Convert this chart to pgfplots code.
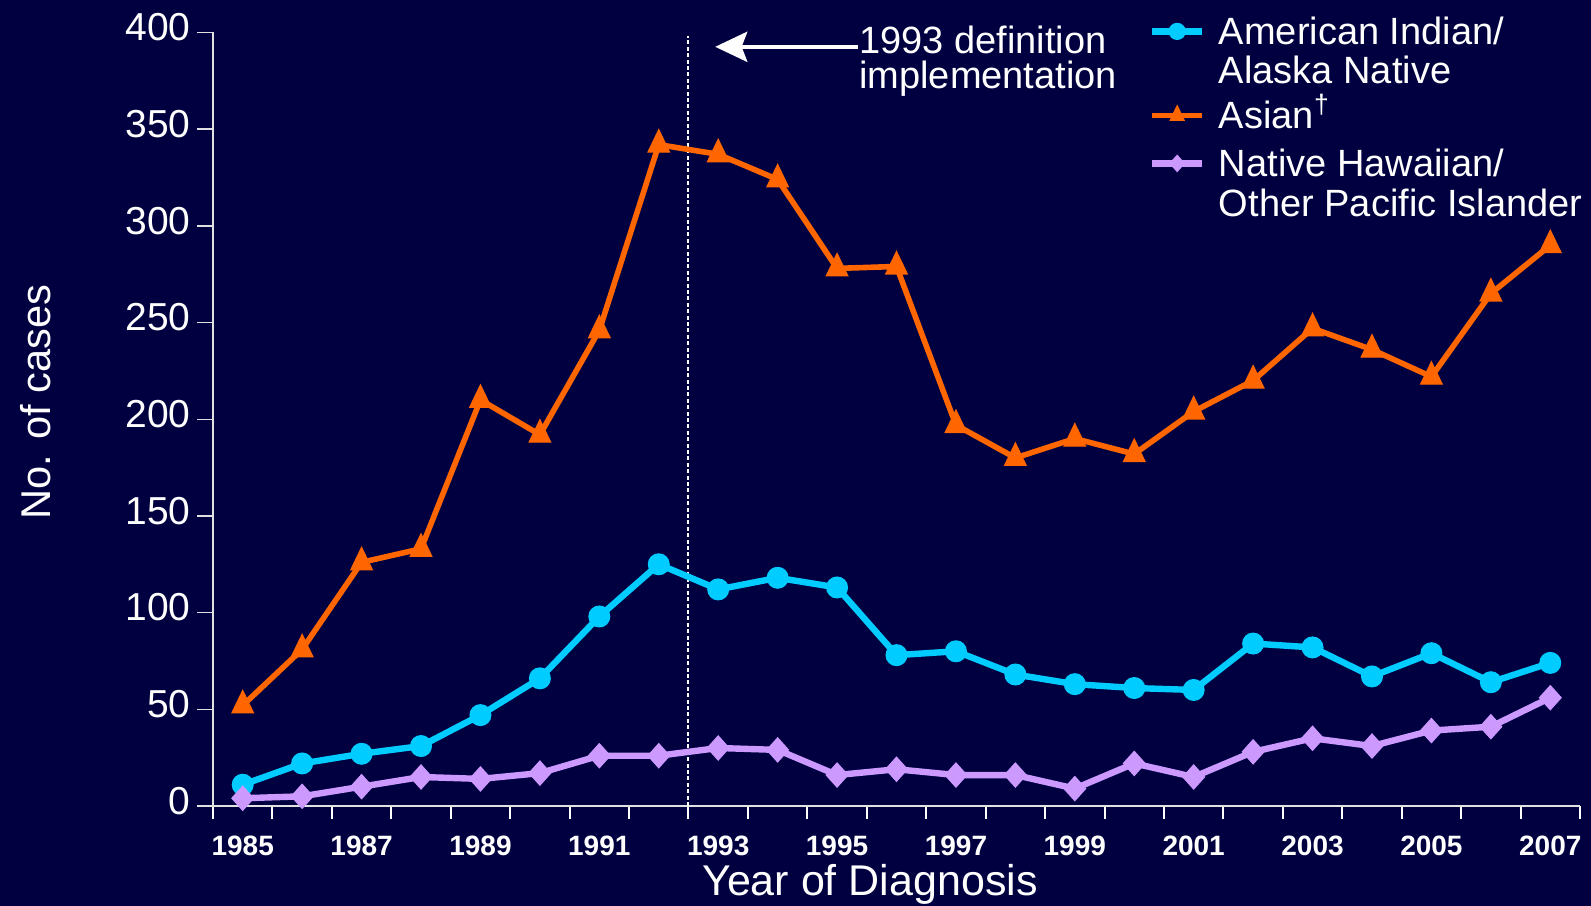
\documentclass[border=0pt]{standalone}
\usepackage{pgfplots}
\pgfplotsset{compat=1.18}
\usepackage{fontspec}
\setmainfont{Liberation Sans}
\usetikzlibrary{arrows.meta}
\definecolor{bg}{RGB}{0,0,64}
\definecolor{aian}{RGB}{0,204,255}
\definecolor{asian}{RGB}{255,102,0}
\definecolor{nhopi}{RGB}{204,153,255}
\definecolor{axisgray}{RGB}{225,225,225}
\begin{document}
\begin{tikzpicture}
\fill[bg] (-53.25pt,-25pt) rectangle (344.5pt,201.5pt);
\begin{axis}[
  at={(0pt,0pt)}, anchor=south west,
  scale only axis, width=341.75pt, height=193.375pt,
  xmin=1984.5, xmax=2007.5, ymin=0, ymax=400,
  clip=false,
  axis x line*=bottom, axis y line*=left,
  x axis line style={axisgray, line width=0.6pt, shorten <=-4pt},
  y axis line style={axisgray, line width=0.4pt},
  tick align=outside,
  major tick length=3.9pt, minor tick length=3.25pt,
  xtick={1985,1987,...,2007},
  minor xtick={1984.5,1985.5,...,2007.5},
  every major x tick/.append style={draw=none},
  every minor x tick/.append style={white, line width=0.5pt},
  ytick={0,50,...,400},
  every major y tick/.append style={axisgray, line width=0.35pt},
  /pgf/number format/assume math mode=true,
  /pgf/number format/1000 sep={},
  yticklabel style={font=\fontsize{9.75}{11}\selectfont, text=white, inner sep=1.5pt, yshift=1.3pt},
  xticklabel style={font=\fontsize{7.0}{9}\selectfont\bfseries, text=white},
  xlabel={Year of Diagnosis},
  xlabel style={at={(axis description cs:0.4806,0)}, anchor=base, yshift=-22.5pt, font=\fontsize{10.75}{12}\selectfont, text=white},
  ylabel={No. of cases},
  every axis y label/.style={at={([xshift=-40.5pt]axis description cs:0,0.5223)}, rotate=90, anchor=base, font=\fontsize{10.4}{12}\selectfont, text=white},
  legend style={at={(axis description cs:0.6847,1.0252)}, anchor=north west, draw=none, fill=none, inner sep=0pt, outer sep=0pt, row sep=0pt, column sep=3.4pt, cells={anchor=base west}, nodes={inner sep=0pt, text height=8pt, text depth=4pt, font=\fontsize{9.5}{8.75}\selectfont, text=white}},
  legend image code/.code={\draw[mark repeat=2, mark phase=2, #1] plot coordinates {(0pt,3.4pt) (6.25pt,3.4pt) (12.5pt,3.4pt)};},
  legend image post style={mark size=2pt},
]
\draw[white, line width=0.5pt, dash pattern=on 1pt off 0.6pt] (axis cs:1992.5,0) -- (axis cs:1992.5,398);

\addplot[color=aian, line width=1.6pt, mark=*, mark size=2.6pt, mark options={line width=0.3pt}] coordinates {
(1985,11) (1986,22) (1987,27) (1988,31) (1989,47) (1990,66) (1991,98) (1992,125)
(1993,112) (1994,118) (1995,113) (1996,78) (1997,80) (1998,68) (1999,63) (2000,61)
(2001,60) (2002,84) (2003,82) (2004,67) (2005,79) (2006,64) (2007,74)};
\addlegendentry[text depth=13pt]{\begin{tabular}[t]{@{}l@{}}American Indian/\\Alaska Native\end{tabular}}

\addplot[color=asian, line width=1.4pt, mark=triangle*, mark size=3.1pt, mark options={line width=0.3pt, yscale=1.2}] coordinates {
(1985,52) (1986,81) (1987,126) (1988,133) (1989,210) (1990,192) (1991,246) (1992,342)
(1993,337) (1994,324) (1995,278) (1996,279) (1997,197) (1998,180) (1999,190) (2000,182)
(2001,204) (2002,220) (2003,247) (2004,236) (2005,222) (2006,265) (2007,290)};
\addlegendentry{Asian\textsuperscript{\textdagger}}

\addplot[color=nhopi, line width=1.6pt, mark=diamond*, mark size=3pt, mark options={line width=0.3pt, xscale=1.2}] coordinates {
(1985,4) (1986,5) (1987,10) (1988,15) (1989,14) (1990,17) (1991,26) (1992,26)
(1993,30) (1994,29) (1995,16) (1996,19) (1997,16) (1998,16) (1999,9) (2000,22)
(2001,15) (2002,28) (2003,35) (2004,31) (2005,39) (2006,41) (2007,56)};
\addlegendentry{\begin{tabular}[t]{@{}l@{}}Native Hawaiian/\\[0.3pt]Other Pacific Islander\end{tabular}}

\draw[white, line width=1.1pt, -{Stealth[length=8pt, width=7.5pt, inset=1.4pt]}] (axis cs:1995.35,392.6) -- (axis cs:1992.95,392.6);
\node[anchor=base west, inner sep=0pt, text=white, font=\fontsize{9.5}{11}\selectfont] at (axis cs:1995.36,389.3) {1993 definition};
\node[anchor=base west, inner sep=0pt, text=white, font=\fontsize{9.5}{11}\selectfont] at (axis cs:1995.36,371.2) {implementation};
\end{axis}
\pgfresetboundingbox
\useasboundingbox (-53.25pt,-25pt) rectangle (344.5pt,201.5pt);
\end{tikzpicture}
\end{document}
